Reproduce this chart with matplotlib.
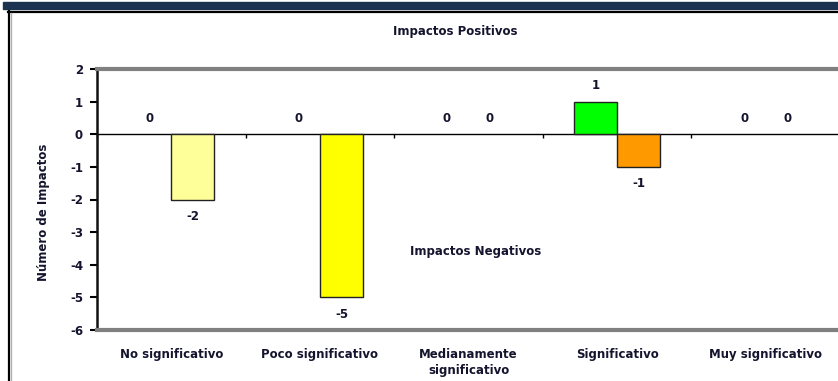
import numpy as np
import matplotlib.pyplot as plt
from matplotlib.patches import Rectangle
from matplotlib.lines import Line2D

categories = ['No significativo', 'Poco significativo', 'Medianamente\nsignificativo',
              'Significativo', 'Muy significativo']
positivos = [0, 0, 0, 1, 0]
negativos = [-2, -5, 0, -1, 0]
colores_pos = ['#FFFF99', '#FFFF00', '#FFFFFF', '#00FF00', '#FFFFFF']
colores_neg = ['#FFFF99', '#FFFF00', '#FFFFFF', '#FF9900', '#FFFFFF']
yticks = [2, 1, 0, -1, -2, -3, -4, -5, -6]

txt = '#14142e'
plt.rcParams['font.family'] = ['DejaVu Sans']
plt.rcParams['font.weight'] = 'bold'
plt.rcParams['font.size'] = 8.5
plt.rcParams['axes.unicode_minus'] = False

W, H = 838, 381
fig = plt.figure(figsize=(W / 100, H / 100), dpi=100)

# frame like the original document
fig.patches.append(Rectangle((3 / W, 1 - 9 / H), 1, 7 / H, transform=fig.transFigure,
                             color='#1b3350', zorder=0))
fig.lines.append(Line2D([8.5 / W, 8.5 / W], [0, 1 - 11 / H], transform=fig.transFigure,
                        color='black', lw=1.6))
fig.lines.append(Line2D([8 / W, 1], [1 - 11.5 / H, 1 - 11.5 / H], transform=fig.transFigure,
                        color='black', lw=1.6))
fig.lines.append(Line2D([10.5 / W, 10.5 / W], [0, 1 - 13 / H], transform=fig.transFigure,
                        color='#b0b0b0', lw=1))

ax = fig.add_axes([97 / W, 1 - 330 / H, 743 / W, 261 / H])
x = np.arange(len(categories))
w = 0.29

lw_pos = [1 if v != 0 else 0 for v in positivos]
lw_neg = [1 if v != 0 else 0 for v in negativos]
ax.bar(x - w / 2, positivos, w, color=colores_pos, edgecolor='#222222', linewidth=lw_pos, zorder=3)
ax.bar(x + w / 2, negativos, w, color=colores_neg, edgecolor='#222222', linewidth=lw_neg, zorder=3)

for i in range(len(categories)):
    ax.annotate(str(positivos[i]), (x[i] - w / 2, positivos[i]), xytext=(0, 11.5),
                textcoords='offset points', ha='center', va='center', color=txt)
    off = -12 if negativos[i] < 0 else 11.5
    ax.annotate(str(negativos[i]), (x[i] + w / 2, negativos[i]), xytext=(0, off),
                textcoords='offset points', ha='center', va='center', color=txt)

ax.set_xlim(-0.5, len(categories) - 0.5)
ax.set_ylim(-6, 2)
ax.set_yticks(yticks)
ax.tick_params(axis='y', length=5, width=1.5, colors='black', labelcolor=txt, pad=5)
ax.set_xticks(x)
ax.set_xticklabels(categories, color=txt, linespacing=1.3, va='top')
ax.tick_params(axis='x', length=0, pad=13)

for s in ['top', 'bottom']:
    ax.spines[s].set_color('#808080')
    ax.spines[s].set_linewidth(3)
ax.spines['left'].set_linewidth(1.8)
ax.spines['left'].set_color('#111111')
ax.spines['right'].set_visible(False)

# zero line with category separators
sec = ax.secondary_xaxis(6 / 8)
sec.set_xticks(np.arange(len(categories) + 1) - 0.5)
sec.set_xticklabels([])
sec.tick_params(length=3, width=1, direction='in')
for s in sec.spines.values():
    s.set_linewidth(1)

ax.text(0.51, 0.30, 'Impactos Negativos', transform=ax.transAxes, ha='center',
        va='center', color=txt)
fig.text(455 / W, 1 - 31 / H, 'Impactos Positivos', ha='center', va='center', color=txt)
fig.text(44 / W, 1 - 212 / H, 'Número de Impactos', rotation=90, ha='center',
         va='center', color=txt)

fig.savefig('out.png', dpi=100)
